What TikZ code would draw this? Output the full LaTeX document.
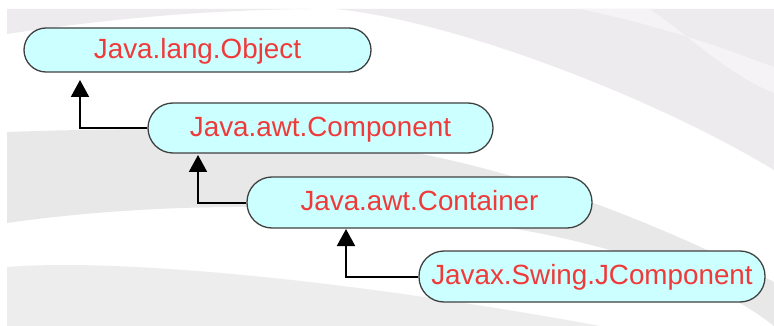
\documentclass[tikz,border=0pt]{standalone}
\usepackage{fontspec}
\setmainfont{Liberation Sans}
\usetikzlibrary{arrows.meta}
\definecolor{boxfill}{HTML}{CCFFFF}
\definecolor{boxline}{HTML}{404040}
\definecolor{txtred}{HTML}{F03A3A}
\definecolor{bgtop}{HTML}{EEEBEE}
\definecolor{bglight}{HTML}{F5F3F5}
\definecolor{bgmid}{HTML}{E8E8E8}
\definecolor{bgbot}{HTML}{EDEDED}
\begin{document}
\begin{tikzpicture}[x=1pt,y=-1pt,
  cls/.style={draw=boxline, line width=1.3pt, fill=boxfill, rounded corners=25pt,
    minimum width=345pt, minimum height=50pt, inner sep=0pt, text=txtred,
    font=\fontsize{27.8}{30}\selectfont, text height=16.4pt, text depth=0pt},
  inh/.style={draw=black, line width=2pt, -{Triangle[width=18pt,length=17pt]}}]
\useasboundingbox (0,0) rectangle (774,326);
\fill[white] (0,0) rectangle (774,326);
% background swooshes
\fill[bgtop] (7,9) -- (310,9) .. controls (200,10) and (100,20) .. (7,34) -- cycle;
\fill[bgtop] (335,9) -- (774,9) -- (774,170) .. controls (650,95) and (450,20) .. (335,9) -- cycle;
\fill[bglight] (580,9) .. controls (680,30) and (740,55) .. (774,67) -- (774,93) .. controls (730,75) and (700,45) .. (650,9) -- cycle;
\fill[bgmid] (7,132) .. controls (300,122) and (480,135) .. (774,282) -- (774,326) .. controls (620,205) and (250,188) .. (7,223) -- cycle;
\fill[bgbot] (7,267) .. controls (120,258) and (350,280) .. (600,326) -- (7,326) -- cycle;
% class boxes
\node[cls, minimum width=347pt, minimum height=44pt, rounded corners=22pt] (obj) at (197.5,50) {Java.lang.Object};
\node[cls] (comp) at (320.5,128) {Java.awt.Component};
\node[cls, minimum height=51pt] (cont) at (419.5,202.5) {Java.awt.Container};
\node[cls, minimum width=346pt, minimum height=51pt] (jcomp) at (592,276.5) {Javax.Swing.JComponent};
% inheritance arrows
\coordinate (t1) at (80,80);
\coordinate (t2) at (198,155);
\coordinate (t3) at (346,229);
\draw[inh] (comp.west) -| (t1);
\draw[inh] (cont.west) -| (t2);
\draw[inh] (jcomp.west) -| (t3);
\end{tikzpicture}
\end{document}
